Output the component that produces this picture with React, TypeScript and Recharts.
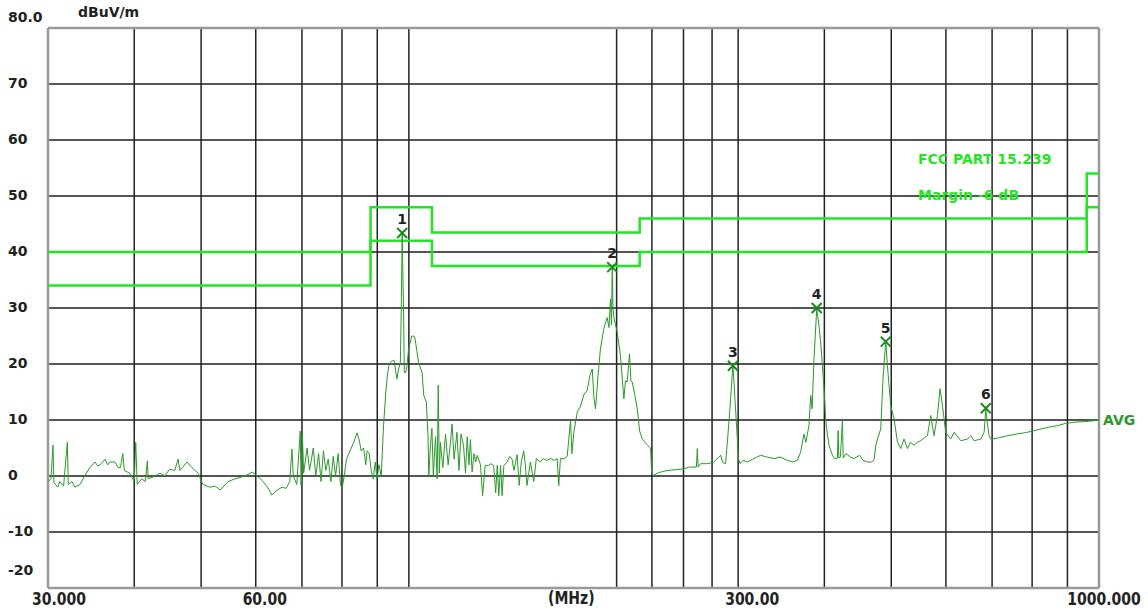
import React from "react";
import { ComposedChart, Line, XAxis, YAxis, ReferenceLine } from "recharts";

// spectrum trace (MHz / dBuV/m)
const traceFreq = [
  30.0, 30.3, 30.5, 30.6, 31.0, 31.2, 31.6, 32.0, 32.1, 32.5, 32.8, 33.4, 33.9, 34.5, 35.1, 35.4, 35.7, 36.3, 36.6, 36.9,
  37.5, 37.9, 38.2, 38.5, 38.7, 39.4, 40.0, 40.2, 40.4, 41.0, 41.5, 41.8, 41.9, 42.9, 43.6, 44.3, 45.0, 45.8, 46.3, 46.6,
  47.7, 48.5, 49.5, 50.3, 51.5, 52.4, 53.3, 54.7, 56.0, 57.9, 59.3, 60.0, 61.3, 62.4, 63.3, 64.5, 65.5, 66.4, 67.2, 67.7,
  68.0, 68.8, 69.6, 69.8, 70.1, 70.4, 71.2, 71.8, 72.7, 73.3, 74.0, 74.6, 75.2, 75.8, 76.4, 77.1, 77.7, 78.3, 79.0, 79.6,
  80.0, 80.6, 81.2, 82.5, 83.2, 84.1, 84.7, 85.3, 86.0, 86.6, 87.0, 87.6, 88.2, 88.8, 89.4, 89.9, 90.5, 91.2, 91.9, 92.6,
  93.0, 93.5, 94.0, 94.6, 95.2, 96.1, 96.6, 97.2, 97.5, 97.8, 98.2, 98.5, 99.0, 99.4, 99.9, 101.0, 101.6, 102.1, 103.3, 104.5,
  105.1, 106.0, 106.6, 106.9, 107.4, 108.0, 108.5, 109.3, 109.9, 110.3, 110.7, 111.1, 112.0, 113.0, 114.0, 114.9, 115.5, 116.3, 117.4, 118.2,
  119.0, 120.0, 120.8, 121.5, 122.2, 122.8, 123.5, 124.3, 125.0, 125.6, 127.0, 127.9, 128.4, 129.0, 130.5, 131.5, 132.7, 133.6, 134.3, 135.0,
  135.8, 136.5, 137.3, 138.8, 140.0, 141.1, 142.0, 143.5, 144.5, 145.5, 146.7, 147.5, 148.3, 150.0, 151.7, 153.0, 155.0, 156.5, 158.3, 160.5,
  162.5, 164.0, 164.9, 165.8, 168.0, 169.6, 171.5, 172.3, 173.4, 175.4, 177.3, 179.3, 181.3, 183.0, 184.4, 185.4, 186.4, 188.0, 189.5, 191.6,
  193.8, 195.0, 196.0, 196.6, 197.1, 197.6, 198.2, 200.4, 202.6, 204.9, 206.0, 207.2, 208.8, 209.8, 210.7, 212.5, 214.3, 216.0, 217.9, 219.8,
  221.7, 224.0, 224.8, 226.0, 230.0, 236.9, 243.0, 250.4, 255.0, 261.0, 261.8, 262.5, 264.7, 270.0, 276.0, 283.0, 285.0, 287.7, 289.9, 292.6,
  294.8, 296.8, 299.2, 300.2, 302.0, 305.0, 309.4, 315.0, 323.4, 330.0, 338.1, 345.0, 353.5, 360.0, 365.5, 369.6, 373.7, 376.0, 380.0, 382.2,
  384.0, 386.4, 389.9, 392.9, 395.1, 397.4, 399.5, 401.8, 403.0, 406.2, 410.9, 414.0, 417.8, 418.8, 419.8, 422.0, 424.8, 426.0, 430.0, 436.0,
  441.6, 450.0, 455.0, 461.8, 468.0, 472.1, 475.0, 477.5, 482.8, 486.4, 490.9, 493.7, 499.1, 504.7, 510.4, 516.1, 521.8, 527.8, 533.0, 539.5,
  545.0, 551.7, 558.0, 564.2, 570.4, 576.7, 583.3, 588.4, 593.1, 599.7, 609.8, 616.6, 630.6, 645.0, 652.0, 659.2, 674.1, 681.6, 685.4, 689.0,
  693.0, 697.0, 715.0, 737.0, 760.0, 779.0, 800.0, 823.7, 845.0, 870.9, 895.0, 920.6, 950.0, 990.0, 1000.0,
];
const traceLevel = [
  -1.0, -0.5, 5.5, -1.2, -2.0, -1.0, -1.8, 6.0, -1.5, -1.0, -2.0, -1.5, 0.0, 1.5, 2.5, 1.8, 2.0, 3.0, 2.0, 2.5,
  2.5, 1.5, 1.5, 4.0, 1.0, 0.5, -1.0, 6.0, -1.5, -0.5, -1.0, 2.7, -0.5, 0.0, 0.5, 0.0, 1.2, 1.0, 3.0, 1.0,
  2.5, 1.5, 0.5, -1.5, -2.0, -1.8, -2.5, -1.0, -0.5, 0.0, 0.7, 0.2, -0.8, -2.0, -3.4, -2.5, -2.0, -2.2, -1.0, 4.8,
  0.0, -1.5, 8.0, -1.7, 7.5, 0.5, 5.0, 1.0, 5.0, 0.0, 4.0, -1.0, 4.5, 1.0, 3.0, -1.0, 3.5, 0.0, 4.0, -1.5,
  -2.3, 0.0, 3.0, 5.0, 6.0, 7.7, 6.5, 4.5, 5.0, 2.0, 4.5, 4.0, 1.0, -0.5, 2.5, -0.5, 2.0, 0.0, 9.0, 15.0,
  17.5, 19.6, 20.3, 20.6, 20.6, 17.3, 19.0, 20.3, 30.0, 43.4, 31.0, 18.5, 18.5, 19.7, 22.7, 25.0, 25.0, 24.5, 20.3, 18.5,
  14.4, 13.2, 7.0, 0.0, 5.0, 8.5, 0.0, 7.0, -0.5, 16.2, 0.5, 6.0, 1.5, 7.5, 2.0, 6.0, 9.3, 3.0, 7.8, 1.0,
  7.5, 5.5, 0.5, 7.0, 2.0, 6.5, 0.7, 4.0, 2.5, 3.7, 2.0, -3.5, -1.0, 1.9, 1.9, 2.2, 1.9, -3.0, 1.9, -3.5,
  1.9, -3.5, 1.9, 2.5, 3.5, 3.0, 1.0, 3.8, -1.7, 2.5, 4.5, 2.0, -1.7, 2.5, -1.0, 3.1, 2.5, 3.1, 2.8, 3.1,
  2.8, 3.1, -1.7, 3.1, 3.1, 3.5, 9.9, 4.0, 7.8, 11.4, 12.5, 14.5, 15.3, 18.0, 19.1, 14.0, 12.0, 18.0, 22.7, 26.3,
  28.3, 26.5, 31.6, 27.0, 37.5, 30.0, 28.3, 25.7, 21.5, 13.8, 17.0, 16.8, 21.8, 17.0, 16.8, 14.5, 12.0, 8.0, 6.6, 6.0,
  5.5, 5.0, 0.5, 0.1, 0.6, 1.0, 1.1, 1.3, 1.6, 1.6, 4.9, 1.6, 2.2, 2.2, 2.4, 3.7, 2.4, 2.2, 7.2, 13.8,
  20.0, 13.8, 6.6, 3.1, 2.2, 2.8, 2.5, 3.0, 3.7, 3.4, 3.1, 3.4, 2.8, 2.5, 2.8, 4.3, 7.5, 6.0, 9.0, 14.4,
  12.0, 20.9, 29.8, 26.8, 23.9, 19.7, 15.6, 10.2, 8.5, 5.5, 3.7, 3.1, 3.2, 8.1, 3.2, 3.4, 9.9, 3.2, 4.0, 3.4,
  3.1, 3.7, 2.8, 2.5, 2.5, 2.8, 5.5, 6.6, 8.4, 17.3, 24.0, 19.7, 12.6, 10.2, 6.1, 4.9, 6.6, 4.9, 6.0, 5.5,
  6.0, 6.3, 6.8, 7.2, 10.8, 7.2, 10.8, 15.6, 12.6, 7.8, 6.6, 7.8, 6.3, 6.6, 7.2, 6.3, 6.6, 7.8, 11.8, 9.5,
  7.2, 6.6, 6.8, 7.2, 7.5, 7.7, 8.0, 8.4, 8.7, 9.0, 9.4, 9.6, 9.7, 9.9, 10.0,
];

// FCC PART 15.239 limit and the -6 dB margin line
const limitFreq = [30, 88, 108, 216, 960, 1000];
const limitLevel = [40, 48, 43.5, 46, 54, 54];
const marginLevel = [34, 42, 37.5, 40, 48, 48];

// peak markers
const markerNo = [1, 2, 3, 4, 5, 6];
const markerFreq = [97.8, 197.1, 294.8, 389.9, 490.9, 685.4];
const markerLevel = [43.4, 37.3, 19.7, 30.0, 24.0, 12.1];

const yTicks = [-20, -10, 0, 10, 20, 30, 40, 50, 60, 70, 80];
const gridFreq = [40, 50, 60, 70, 80, 90, 100, 200, 225, 250, 275, 300, 400, 500, 600, 700, 800, 900];
const xTicks = [30, 60, 300, 1000];
const xTickText = ["30.000", "60.00", "300.00", "1000.000"];

const trace = traceFreq.map((f, i) => ({ f, v: traceLevel[i] }));
const limit = limitFreq.map((f, i) => ({ f, v: limitLevel[i] }));
const margin = limitFreq.map((f, i) => ({ f, v: marginLevel[i] }));
const markers = markerFreq.map((f, i) => ({ f, v: markerLevel[i], n: markerNo[i] }));

const labelFont = "'DejaVu Sans', sans-serif";

const YTick = (props: any) => {
  const { y, payload } = props;
  const v = payload.value;
  let text = String(v);
  let ty = y - 1;
  if (v === 80) {
    text = "80.0";
    ty = y - 11;
  }
  if (v === -20) ty = y - 18;
  return (
    <text x={8} y={ty} dy="0.36em" fontFamily={labelFont} fontWeight="bold" fontSize={14} fill="#222">
      {text}
    </text>
  );
};

const xShift: Record<number, number> = { 30: 11, 60: 9, 300: 14, 1000: 5 };

const XTick = (props: any) => {
  const { x, payload } = props;
  const i = xTicks.indexOf(payload.value);
  const tx = x + (xShift[payload.value] || 0);
  return (
    <g transform={`translate(${tx},605) scale(1,1.2)`}>
      <text x={0} y={0} textAnchor="middle" fontFamily={labelFont} fontWeight="bold" fontSize={14} fill="#222">
        {xTickText[i]}
      </text>
    </g>
  );
};

const MarkerDot = (props: any) => {
  const { cx, cy, payload } = props;
  if (cx == null || cy == null) return null;
  return (
    <g>
      <path d={`M${cx - 5},${cy - 5}L${cx + 5},${cy + 5}M${cx + 5},${cy - 5}L${cx - 5},${cy + 5}`} stroke="#1b8a1b" strokeWidth={2} />
      <text x={cx} y={cy - 9} textAnchor="middle" fontFamily={labelFont} fontWeight="bold" fontSize={14} fill="#222">
        {payload.n}
      </text>
    </g>
  );
};

export default function App() {
  return (
    <div style={{ position: "absolute", left: 0, top: 0, width: 1148, height: 614, background: "#fff" }}>
      <ComposedChart width={1148} height={614} margin={{ top: 28, right: 49, bottom: 0, left: 0 }}>
        <XAxis
          dataKey="f"
          type="number"
          scale="log"
          domain={[30, 1000]}
          ticks={xTicks}
          allowDataOverflow
          axisLine={false}
          tickLine={false}
          height={26}
          tick={<XTick />}
        />
        <YAxis
          type="number"
          domain={[-20, 80]}
          ticks={yTicks}
          allowDataOverflow
          axisLine={false}
          tickLine={false}
          width={48}
          tick={<YTick />}
        />
        {yTicks.slice(1, -1).map((v) => (
          <ReferenceLine key={"h" + v} y={v} stroke="#555" strokeWidth={2} />
        ))}
        {gridFreq.map((f) => (
          <ReferenceLine key={"v" + f} x={f} stroke="#222" strokeWidth={1.5} />
        ))}
        <ReferenceLine x={30} stroke="#999" strokeWidth={2.5} />
        <ReferenceLine x={1000} stroke="#999" strokeWidth={2.5} />
        <ReferenceLine y={80} stroke="#999" strokeWidth={2.5} />
        <ReferenceLine y={-20} stroke="#999" strokeWidth={2.5} />
        <Line data={limit} dataKey="v" type="stepAfter" stroke="#22e622" strokeWidth={2.5} dot={false} isAnimationActive={false} />
        <Line data={margin} dataKey="v" type="stepAfter" stroke="#22e622" strokeWidth={2.5} dot={false} isAnimationActive={false} />
        <Line data={trace} dataKey="v" type="linear" stroke="#2a992a" strokeWidth={1} dot={false} isAnimationActive={false} />
        <Line data={markers} dataKey="v" stroke="none" dot={<MarkerDot />} activeDot={false} isAnimationActive={false} />
      </ComposedChart>
      <div style={{ position: "absolute", left: 78, top: 4, fontFamily: labelFont, fontWeight: "bold", fontSize: 14, color: "#222" }}>
        dBuV/m
      </div>
      <div style={{ position: "absolute", left: 548, top: 590, fontFamily: labelFont, fontWeight: "bold", fontSize: 14, color: "#222", transform: "scaleY(1.2)" }}>
        (MHz)
      </div>
      <div style={{ position: "absolute", left: 918, top: 151, fontFamily: labelFont, fontWeight: "bold", fontSize: 14, color: "#22e622" }}>
        FCC PART 15.239
      </div>
      <div style={{ position: "absolute", left: 918, top: 187, fontFamily: labelFont, fontWeight: "bold", fontSize: 14, color: "#22e622" }}>
        Margin -6 dB
      </div>
      <div style={{ position: "absolute", left: 1103, top: 412, fontFamily: labelFont, fontWeight: "bold", fontSize: 14, color: "#2a992a" }}>
        AVG
      </div>
    </div>
  );
}
